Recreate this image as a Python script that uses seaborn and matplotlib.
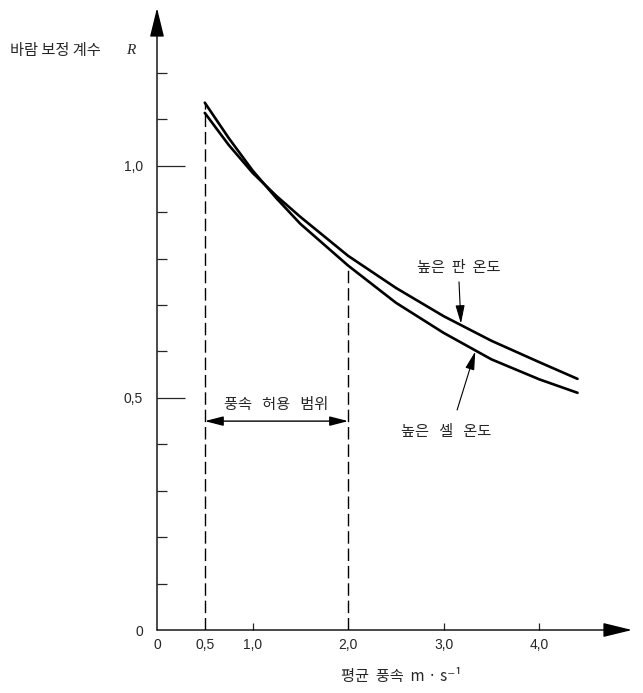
import numpy as np
import pandas as pd
import matplotlib
matplotlib.use("Agg")
import matplotlib.pyplot as plt
import seaborn as sns

# wind speed (m/s) and correction factor R
speed = [0.5, 0.75, 1.0, 1.25, 1.5, 2.0, 2.5, 3.0, 3.5, 4.0, 4.4]
r_cell = [1.136, 1.06, 0.99, 0.93, 0.875, 0.785, 0.705, 0.64, 0.583, 0.54, 0.511]
r_panel = [1.114, 1.045, 0.985, 0.935, 0.89, 0.806, 0.737, 0.676, 0.623, 0.577, 0.541]

x_ticks = [0, 0.5, 1.0, 2.0, 3.0, 4.0]
x_labels = ["0", "0,5", "1,0", "2,0", "3,0", "4,0"]
y_ticks = [0, 0.5, 1.0]
y_labels = ["0", "0,5", "1,0"]
y_minor = [0.1, 0.2, 0.3, 0.4, 0.6, 0.7, 0.8, 0.9, 1.1, 1.2]

range_lo, range_hi = 0.5, 2.0
range_text = "풍속   허용   범위"
panel_text = "높은  판  온도"
cell_text = "높은   셀   온도"

sns.set_style("white")
plt.rcParams["font.family"] = ["Noto Sans CJK KR", "DejaVu Sans"]

df = pd.DataFrame({
    "speed": speed + speed,
    "R": r_cell + r_panel,
    "kind": ["cell"] * len(speed) + ["panel"] * len(speed),
})

fig = plt.figure(figsize=(6.43, 6.93), dpi=100)
ax = fig.add_axes([157 / 643, 63 / 693, 475 / 643, 622 / 693])

sns.lineplot(data=df, x="speed", y="R", hue="kind", palette=["black", "black"],
             linewidth=1.9, legend=False, ax=ax, sort=False)

ax.set_xlim(0, 4.97)
ax.set_ylim(0, 1.34)
for s in ax.spines.values():
    s.set_visible(False)

# axes drawn as arrows
arrow_kw = dict(arrowstyle="-|>,head_length=0.9,head_width=0.22", lw=1.0,
                color="black", mutation_scale=20, shrinkA=0, shrinkB=0)
ax.annotate("", xy=(0, 1), xytext=(0, 0), xycoords="axes fraction", arrowprops=arrow_kw)
ax.annotate("", xy=(1, 0), xytext=(0, 0), xycoords="axes fraction", arrowprops=arrow_kw)

# ticks
tick_font = dict(family="Liberation Sans", size=10)
ax.set_xticks(x_ticks)
ax.set_xticklabels(x_labels, fontdict=tick_font)
ax.set_yticks(y_ticks)
ax.set_yticklabels(y_labels, fontdict=tick_font)
ax.set_yticks(y_minor, minor=True)
ax.tick_params(axis="y", which="major", direction="in", length=20, width=0.9, pad=10, left=True)
ax.tick_params(axis="y", which="minor", direction="in", length=7, width=0.9, left=True)
ax.tick_params(axis="x", which="major", direction="in", length=5, width=0.9, pad=6, bottom=True)
ax.yaxis.get_major_ticks()[0].tick1line.set_visible(False)
for i in (0, 1, 3):
    ax.xaxis.get_major_ticks()[i].tick1line.set_visible(False)
ax.set_xlabel("")
ax.set_ylabel("")

# dashed limits of the permitted range
ax.plot([range_lo, range_lo], [0, r_cell[0]], color="black", lw=1.0, dashes=(9, 3.5))
ax.plot([range_hi, range_hi], [0, r_cell[speed.index(range_hi)]], color="black", lw=1.0, dashes=(9, 3.5))

ax.annotate("", xy=(range_lo, 0.45), xytext=(range_hi, 0.45),
            arrowprops=dict(arrowstyle="<|-|>,head_length=0.7,head_width=0.18", lw=1.0,
                            color="black", mutation_scale=16, shrinkA=0, shrinkB=0))
ax.text((range_lo + range_hi) / 2, 0.485, range_text, ha="center", va="center", fontsize=11)

# curve labels
ax.text(3.16, 0.78, panel_text, ha="center", va="center", fontsize=11)
ax.annotate("", xy=(3.18, 0.66), xytext=(3.16, 0.75),
            arrowprops=dict(arrowstyle="-|>,head_length=0.8,head_width=0.2", lw=0.8,
                            color="black", mutation_scale=14, shrinkA=0, shrinkB=0))
ax.text(3.03, 0.427, cell_text, ha="center", va="center", fontsize=11)
ax.annotate("", xy=(3.33, 0.6), xytext=(3.14, 0.474),
            arrowprops=dict(arrowstyle="-|>,head_length=0.8,head_width=0.2", lw=0.8,
                            color="black", mutation_scale=14, shrinkA=0, shrinkB=0))

# axis titles
fig.text(10 / 643, 1 - 50 / 693, "바람 보정 계수", ha="left", va="center", fontsize=11)
fig.text(126 / 643, 1 - 50 / 693, "R", ha="left", va="center", fontsize=11,
         family="Liberation Serif", style="italic")
fig.text(401 / 643, 1 - 677 / 693, "평균  풍속  m · s⁻¹", ha="center", va="center", fontsize=11,
         family=["Noto Sans CJK KR", "DejaVu Sans"])

fig.savefig("out.png", dpi=100)
